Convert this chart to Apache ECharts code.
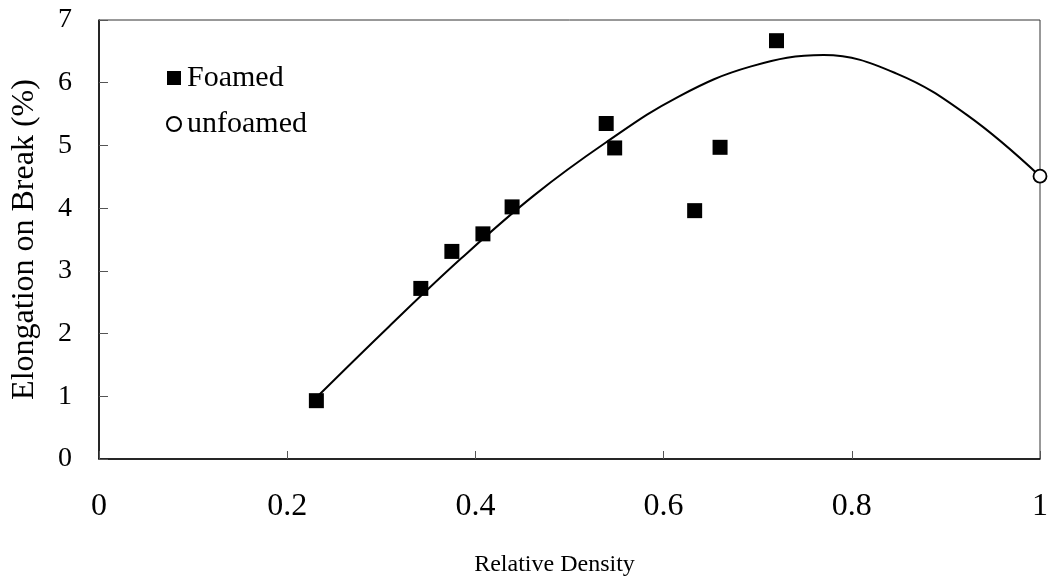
<!DOCTYPE html>
<html>
<head>
<meta charset="utf-8">
<script src="https://cdn.jsdelivr.net/npm/echarts@6/dist/echarts.min.js"></script>
<style>
  html, body { margin: 0; padding: 0; background: #fff; }
  #chart { width: 1052px; height: 586px; }
</style>
</head>
<body>
<div id="chart"></div>
<script>
// Foamed samples: relative density vs elongation at break (%)
const foamedDensity    = [0.231, 0.342, 0.375, 0.408, 0.439, 0.539, 0.548, 0.633, 0.660, 0.720];
const foamedElongation = [0.93, 2.72, 3.31, 3.59, 4.02, 5.35, 4.96, 3.96, 4.97, 6.67];

// Unfoamed (solid) reference
const unfoamedDensity    = [1.0];
const unfoamedElongation = [4.51];

// Trend curve through the data, sampled at even density steps
const trendDensity    = [0.231, 0.308, 0.385, 0.462, 0.539, 0.616, 0.693, 0.770, 0.847, 0.923, 1.0];
const trendElongation = [0.98, 2.11, 3.20, 4.20, 5.05, 5.78, 6.26, 6.44, 6.15, 5.48, 4.51];

// Axis ranges and titles
const xRange = { min: 0, max: 1, interval: 0.2 };
const yRange = { min: 0, max: 7, interval: 1 };
const xTitle = 'Relative Density';
const yTitle = 'Elongation on Break (%)';
const seriesNames = ['Foamed', 'unfoamed'];

const zip = (a, b) => a.map((v, i) => [v, b[i]]);
const serif = 'Liberation Serif';

const chart = echarts.init(document.getElementById('chart'), null, { renderer: 'canvas' });

chart.setOption({
  animation: false,
  backgroundColor: '#fff',
  grid: {
    left: 99, right: 12, top: 20, bottom: 127,
    show: true, borderColor: '#333', borderWidth: 1, backgroundColor: 'transparent'
  },
  legend: {
    data: seriesNames,
    orient: 'vertical',
    left: 161, top: 58,
    itemWidth: 14, itemHeight: 14, itemGap: 16,
    textStyle: { fontFamily: serif, fontSize: 30, color: '#000', lineHeight: 30, padding: [0, 0, 0, 1] }
  },
  xAxis: {
    type: 'value',
    min: xRange.min, max: xRange.max, interval: xRange.interval,
    name: xTitle, nameLocation: 'middle', nameGap: 94,
    nameTextStyle: { fontFamily: serif, fontSize: 24, color: '#000', padding: [0, 30, 0, 0] },
    axisLine: { show: true, lineStyle: { color: '#000', width: 1.5 } },
    axisTick: { show: true, inside: true, length: 8, lineStyle: { color: '#555', width: 1 } },
    axisLabel: { fontFamily: serif, fontSize: 32, color: '#000', margin: 32 },
    splitLine: { show: false }
  },
  yAxis: {
    type: 'value',
    min: yRange.min, max: yRange.max, interval: yRange.interval,
    name: yTitle, nameLocation: 'middle', nameGap: 58, nameRotate: 90,
    nameTextStyle: { fontFamily: serif, fontSize: 32, color: '#000' },
    axisLine: { show: true, lineStyle: { color: '#000', width: 1.5 } },
    axisTick: { show: true, inside: true, length: 9, lineStyle: { color: '#555', width: 1 } },
    axisLabel: { fontFamily: serif, fontSize: 28, color: '#000', margin: 27 },
    splitLine: { show: false }
  },
  series: [
    {
      name: 'trend',
      type: 'line',
      data: zip(trendDensity, trendElongation),
      smooth: 0.4,
      smoothConstraint: false,
      showSymbol: false,
      lineStyle: { color: '#000', width: 2 },
      z: 2,
      silent: true
    },
    {
      name: seriesNames[0],
      type: 'scatter',
      data: zip(foamedDensity, foamedElongation),
      symbol: 'rect',
      symbolSize: 15,
      itemStyle: { color: '#000', opacity: 1 },
      z: 3
    },
    {
      name: seriesNames[1],
      type: 'scatter',
      data: zip(unfoamedDensity, unfoamedElongation),
      symbol: 'circle',
      symbolSize: 13,
      itemStyle: { color: '#fff', borderColor: '#000', borderWidth: 1.8, opacity: 1 },
      z: 4
    }
  ]
});
</script>
</body>
</html>
